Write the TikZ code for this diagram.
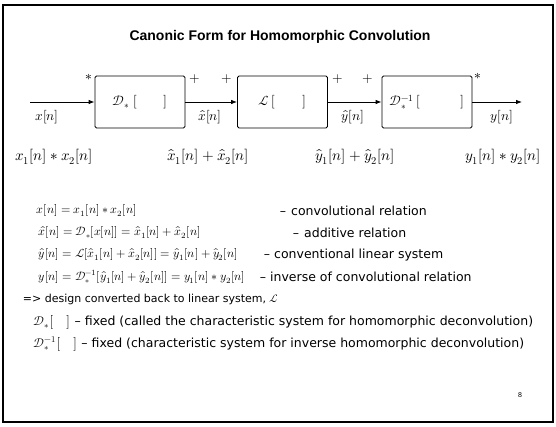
\documentclass[tikz,border=0pt]{standalone}
\usepackage{amsmath}
\usepackage{amssymb}
\usepackage{fontspec}
\usepackage{unicode-math}
\setmainfont{Liberation Sans}
\setmathfont{Latin Modern Math}
\newfontfamily\descfont{DejaVu Sans}
\usetikzlibrary{arrows.meta}

\begin{document}
\begin{tikzpicture}[x=1pt,y=1pt,yscale=-1,xscale=1,
		sysbox/.style={draw,line width=0.8pt,rounded corners=1.5pt,minimum width=90pt,minimum height=52pt,inner sep=0pt},
		sig/.style={-{Latex[length=6pt,width=4.5pt]},line width=0.8pt},
		lbl/.style={inner sep=0.75pt,font=\fontsize{13.5}{15}\selectfont},
		sumlbl/.style={inner sep=0.75pt,font=\fontsize{15}{17}\selectfont},
		txt/.style={anchor=west,inner sep=0.75pt,font=\fontsize{12.5}{14}\selectfont\descfont},
		eqn/.style={anchor=west,inner sep=0.75pt,font=\fontsize{12}{14}\selectfont}]
		\useasboundingbox (0,0) rectangle (556,427);
		
		%Shape: Rectangle (slide frame)
		\draw [line width=1.2pt] (3,5) rectangle (553,422);
		% Text Node
		\node [inner sep=0.75pt,font=\fontsize{14}{16}\selectfont\bfseries] (title) at (280,37) {Canonic Form for Homomorphic Convolution};
		
		%Shape: Rectangle
		\node [sysbox,lbl] (dconv) at (140,102) {$\mathcal{D}_*\;[\qquad]$};
		%Shape: Rectangle
		\node [sysbox,lbl] (lin) at (282.5,102) {$\mathcal{L}\,[\qquad]$};
		%Shape: Rectangle
		\node [sysbox,lbl] (dinv) at (427,102) {$\mathcal{D}_*^{-1}\,[\qquad\quad]$};
		\coordinate (in) at (30,102);
		\coordinate (out) at (522,102);
		
		%Straight Lines
		\draw [sig] (in) -- (dconv);
		\draw [sig] (dconv) -- (lin);
		\draw [sig] (lin) -- (dinv);
		\draw [sig] (dinv) -- (out);
		
		% Text Node
		\node [lbl] (star1) at (89,77) {$*$};
		\node [lbl] (plus1) at (195,79) {$+$};
		\node [lbl] (plus2) at (227,79) {$+$};
		\node [lbl] (plus3) at (338,79) {$+$};
		\node [lbl] (plus4) at (368,79) {$+$};
		\node [lbl] (star2) at (478,76) {$*$};
		% Text Node
		\node [lbl] (xn) at (47,117) {$x[n]$};
		\node [lbl] (xhn) at (210,117) {$\hat{x}[n]$};
		\node [lbl] (yhn) at (353,117) {$\hat{y}[n]$};
		\node [lbl] (yn) at (502,117) {$y[n]$};
		% Text Node
		\node [sumlbl] (xsum) at (54,157) {$x_1[n]*x_2[n]$};
		\node [sumlbl] (xhsum) at (208,157) {$\hat{x}_1[n]+\hat{x}_2[n]$};
		\node [sumlbl] (yhsum) at (355,157) {$\hat{y}_1[n]+\hat{y}_2[n]$};
		\node [sumlbl] (ysum) at (503,157) {$y_1[n]*y_2[n]$};
		
		% Text Node
		\node [eqn] (eqa) at (36,211) {$x[n] = x_1[n] * x_2[n]$};
		\node [txt] (rela) at (279,211) {–\hspace{5pt}convolutional relation};
		\node [eqn] (eqb) at (38,233) {$\hat{x}[n] = \mathcal{D}_*[x[n]] = \hat{x}_1[n] + \hat{x}_2[n]$};
		\node [txt] (relb) at (292,233) {–\hspace{5pt}additive relation};
		\node [eqn] (eqc) at (38,255) {$\hat{y}[n] = \mathcal{L}[\hat{x}_1[n] + \hat{x}_2[n]] = \hat{y}_1[n] + \hat{y}_2[n]$};
		\node [txt] (relc) at (263,255) {– conventional linear system};
		\node [eqn] (eqd) at (38,277) {$y[n] = \mathcal{D}_*^{-1}[\hat{y}_1[n] + \hat{y}_2[n]] = y_1[n] * y_2[n]$};
		\node [txt] (reld) at (259,277) {– inverse of convolutional relation};
		% Text Node
		\node [txt,font=\fontsize{11}{13}\selectfont\descfont] (design) at (22,299) {=> design converted back to linear system, $\mathcal{L}$};
		\node [txt] (fixa) at (33,322) {$\mathcal{D}_*\big[\quad\big]$ – fixed (called the characteristic system for homomorphic deconvolution)};
		\node [txt] (fixb) at (33,344) {$\mathcal{D}_*^{-1}\big[\quad\big]$ – fixed (characteristic system for inverse homomorphic deconvolution)};
		% Text Node
		\node [inner sep=0.75pt,font=\fontsize{7}{8}\selectfont] (page) at (520,395) {8};
		
	\end{tikzpicture}
\end{document}
